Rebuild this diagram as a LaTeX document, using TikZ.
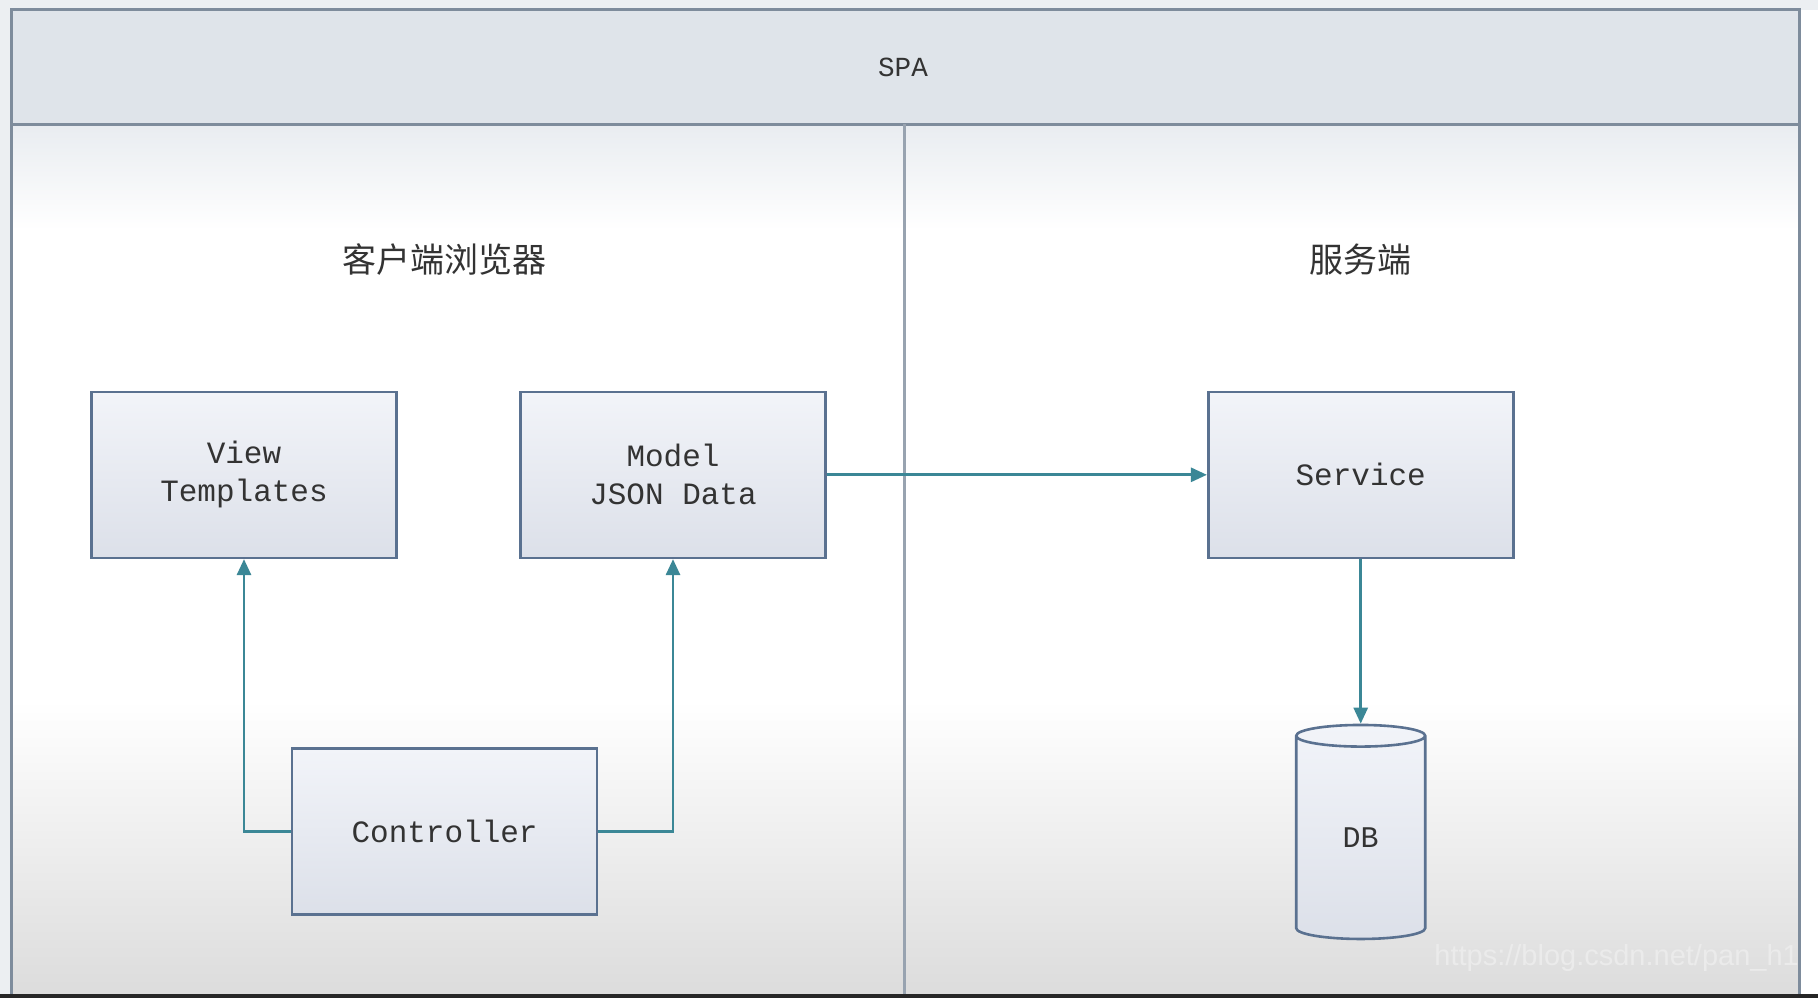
\documentclass[tikz,border=0pt]{standalone}
\usepackage{fontspec}
\setmainfont{Liberation Mono}
\newfontfamily\cjk{Noto Sans CJK SC}
\newfontfamily\wmfont{Liberation Sans}
\usetikzlibrary{arrows.meta,shapes.geometric,positioning}
\definecolor{boxline}{HTML}{5A7190}
\definecolor{boxtop}{HTML}{F2F4F9}
\definecolor{boxbot}{HTML}{DCE0E9}
\definecolor{arrowc}{HTML}{3B8796}
\definecolor{frameline}{HTML}{7E8C9C}
\definecolor{headfill}{HTML}{DFE4EA}
\definecolor{bggray}{HTML}{DCDCDC}
\definecolor{textc}{HTML}{333333}
\tikzset{
  px/.style={x=0.5pt,y=-0.5pt},
  boxnode/.style={draw=boxline,line width=1.3pt,top color=boxtop,bottom color=boxbot,
    minimum width=152.5pt,minimum height=83pt,inner sep=0pt,align=center,
    font=\fontsize{15.5}{19}\selectfont,text=textc},
  dbnode/.style={cylinder,shape border rotate=90,draw=boxline,line width=1.3pt,
    aspect=0.6,minimum width=64.5pt,minimum height=107pt,inner sep=0pt,
    top color=boxtop,bottom color=boxbot,font=\fontsize{15}{18}\selectfont,text=textc},
  conn/.style={draw=arrowc,line width=1.4pt,-{Triangle[length=8pt,width=7pt]}},
  title/.style={font=\cjk\fontsize{17}{20}\selectfont,text=textc},
}
\begin{document}
\begin{tikzpicture}[px]
\useasboundingbox (0,0) rectangle (1818,998);
% page backgrounds
\fill[white] (0,0) rectangle (1818,998);
\fill[color=headfill!60] (0,0) rectangle (1818,10);
\fill[color=headfill!60] (0,0) rectangle (11.6,998);
% body gradient
\fill[white] (11.6,124) rectangle (1799.4,994);
\shade[top color=headfill!70,bottom color=white] (11.6,124) rectangle (1799.4,230);
\shade[top color=white,bottom color=bggray] (11.6,700) rectangle (1799.4,994);
% header
\fill[headfill] (11.6,9.3) rectangle (1799.4,124);
\draw[frameline,line width=1.5pt] (11.6,994) -- (11.6,9.3) -- (1799.4,9.3) -- (1799.4,994);
\draw[frameline,line width=1.5pt] (11.6,124) -- (1799.4,124);
\draw[frameline!80,line width=1.3pt] (904.3,124) -- (904.3,994);
% bottom dark bar
\fill[black!85] (0,994) rectangle (1818,998);
% texts
\node[font=\fontsize{13.8}{16}\selectfont,text=textc] (spa) at (903,67) {SPA};
\node[title] (client) at (444,260) {客户端浏览器};
\node[title] (server) at (1360,260) {服务端};
% boxes
\node[boxnode] (view) at (244,474.8) {View\\Templates};
\node[boxnode] (model) at (673,474.8) {Model\\JSON Data};
\node[boxnode] (service) at (1360.7,474.8) {Service};
\node[boxnode] (ctrl) at (444.6,831.3) {Controller};
\node[dbnode] (db) at (1360.7,838) {DB};
% connectors
\draw[conn] (model.east) -- (service.west);
\draw[conn] (ctrl.west) -| (view.south);
\draw[conn] (ctrl.east) -| (model.south);
\draw[conn] (service.south) -- (db.top);
% watermark
\node[anchor=west,font=\wmfont\fontsize{14.5}{16}\selectfont,text=white!92!black,inner sep=0pt] (wm) at (1434,958) {https://blog.csdn.net/pan\_h1};
\end{tikzpicture}
\end{document}
